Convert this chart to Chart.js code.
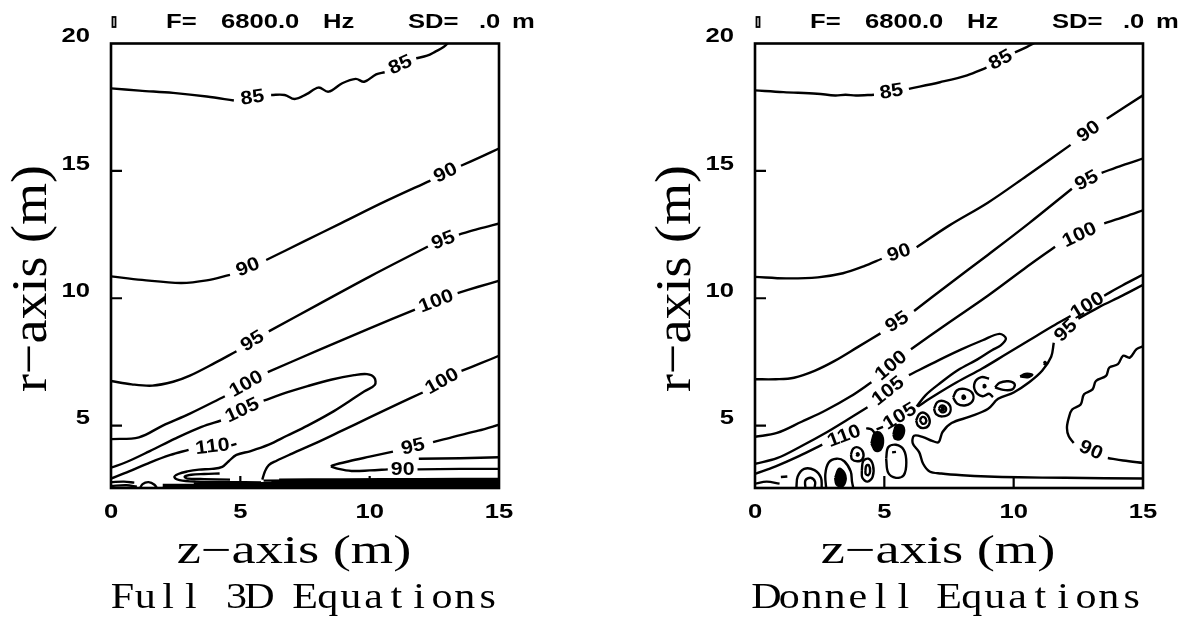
<!DOCTYPE html>
<html>
<head>
<meta charset="utf-8">
<script src="https://cdn.jsdelivr.net/npm/chart.js@4.4.1/dist/chart.umd.min.js"></script>
<style>
  html, body { margin: 0; padding: 0; background: #fff; }
  .panel { position: absolute; top: 0; width: 544px; height: 617px; }
  #panel_full { left: 0; }
  #panel_donnell { left: 644px; }
</style>
</head>
<body>
<div class="panel" id="panel_full"><canvas id="chart_full" width="544" height="617"></canvas></div>
<div class="panel" id="panel_donnell"><canvas id="chart_donnell" width="544" height="617"></canvas></div>
<script>
// axes (z = range along the shell, r = radial distance), both in metres
const Z_RANGE = [0, 15];
const R_RANGE = [2.55, 20];
const Z_TICKS = [0, 5, 10, 15];
const R_TICKS = [5, 10, 15, 20];
const Z_INNER_TICKS = [5, 10];
const R_INNER_TICKS = [5, 10, 15];

const HEAD_FREQ = ["F=", "6800.0", "Hz"];
const HEAD_DEPTH = ["SD=", ".0", "m"];
const Z_TITLE = "z\u2212axis (m)";
const R_TITLE = "r\u2212axis (m)";
const CAPTION_FULL = "Full 3D Equations";
const CAPTION_DONNELL = "Donnell Equations";

// each contour is a list of runs [z, r]; the level label sits in the gap between runs

// ---- Full 3D equations ----
const full85 = [
  [[0, 18.24], [1.1, 18.15], [2.4, 18.06], [3.7, 17.92], [4.75, 17.76]],
  [[6.19, 17.98], [6.71, 17.98], [7.1, 17.82], [7.56, 18.01], [8.02, 18.27], [8.41, 18.11], [8.94, 18.44], [9.46, 18.61], [9.79, 18.5], [10.25, 18.79], [10.58, 18.87]],
  [[11.8, 19.42], [12.22, 19.52], [12.54, 19.68], [12.87, 19.87], [13.05, 20.05]]
];
const full90 = [
  [[0, 10.86], [1.2, 10.72], [2.7, 10.6], [3.7, 10.7], [4.6, 10.92]],
  [[6.0, 11.5], [7.5, 12.25], [8.9, 12.95], [10.6, 13.8], [12.35, 14.62]],
  [[13.53, 15.2], [14.3, 15.55], [15.05, 15.9]]
];
const full95 = [
  [[0, 6.75], [0.8, 6.62], [1.6, 6.57], [2.4, 6.72], [3.05, 6.96], [4.0, 7.45], [4.85, 7.92]],
  [[6.1, 8.7], [8.0, 9.75], [10.0, 10.85], [12.25, 12.03]],
  [[13.45, 12.5], [14.2, 12.72], [15.05, 12.95]]
];
const full100 = [
  [[0, 4.47], [1.08, 4.54], [2.0, 5.0], [3.05, 5.47], [4.4, 6.15]],
  [[6.06, 7.1], [8.0, 7.95], [10.0, 8.82], [11.75, 9.55]],
  [[13.4, 10.2], [14.2, 10.45], [15.05, 10.7]]
];
const full105 = [
  [[0, 3.35], [0.6, 3.57], [1.5, 4.0], [2.5, 4.5], [3.5, 4.95], [4.25, 5.2]],
  [[5.9, 5.98], [6.8, 6.3], [7.6, 6.55], [8.5, 6.8], [9.4, 6.98], [9.9, 7.02], [10.18, 6.88], [10.2, 6.6], [9.8, 6.35], [9.2, 5.95], [8.5, 5.5], [7.6, 5.0], [6.8, 4.6], [6.1, 4.25], [5.4, 4.0], [4.85, 3.85], [4.55, 3.6], [4.3, 3.38], [3.9, 3.3], [3.4, 3.27], [2.95, 3.2], [2.6, 3.1], [2.45, 2.98], [2.65, 2.86], [3.3, 2.8], [4.5, 2.78], [5.8, 2.77]]
];
const full110 = [
  [[0, 2.92], [0.7, 3.2], [1.5, 3.55], [2.3, 3.85], [3.0, 4.05]],
  [[4.85, 4.28], [4.65, 4.22]]
];
const full100b = [
  [[5.85, 2.88], [5.95, 3.2], [6.1, 3.45], [6.4, 3.62], [7.0, 3.9], [8.0, 4.35], [8.93, 4.8], [10.0, 5.32], [11.1, 5.85], [12.05, 6.3]],
  [[13.55, 7.15], [14.3, 7.45], [15.05, 7.76]]
];
const full95b = [
  [[15.05, 5.05], [14.2, 4.8], [13.2, 4.55], [12.45, 4.35]],
  [[10.9, 3.98], [10.0, 3.78], [9.2, 3.6], [8.6, 3.45], [8.5, 3.4]]
];
const full90b = [
  [[8.5, 3.4], [8.8, 3.3], [9.3, 3.22], [10.0, 3.24], [10.7, 3.28]],
  [[11.85, 3.28], [13.5, 3.3], [15.05, 3.3]]
];
// unlabelled lines near the shell (z axis)
const fullLines = [
  [[4.2, 3.12], [3.6, 3.1], [3.1, 3.07], [2.85, 3.0], [2.95, 2.92], [3.6, 2.9], [4.6, 2.88]],
  [[11.9, 3.7], [13.5, 3.72], [15.05, 3.76]],
  [[1.1, 2.5], [1.22, 2.7], [1.45, 2.78], [1.68, 2.68], [1.8, 2.5]],
  [[0, 2.78], [0.5, 2.8], [0.9, 2.76]],
  [[0, 2.63], [0.6, 2.66], [1.0, 2.6]],
  [[6.5, 2.88], [9.0, 2.89], [12.0, 2.9], [15.05, 2.91]],
  [[5.9, 2.84], [9.0, 2.85], [12.0, 2.85], [15.05, 2.86]],
  [[6.2, 2.8], [10.0, 2.81], [15.05, 2.82]],
  [[3.2, 2.73], [6.0, 2.74], [10.0, 2.77], [15.05, 2.78]],
  [[6.6, 2.7], [10.0, 2.72], [15.05, 2.74]],
  [[2.0, 2.67], [5.5, 2.67], [10.0, 2.68], [15.05, 2.7]],
  [[5.5, 2.63], [10.0, 2.64], [15.05, 2.66]],
  [[6.4, 2.6], [10.0, 2.61], [15.05, 2.62]],
  [[2.0, 2.58], [6.0, 2.58], [15.05, 2.59]]
];

// ---- Donnell equations ----
const donnell85 = [
  [[0, 18.16], [1.1, 18.09], [2.4, 18.03], [3.1, 17.96], [3.5, 17.99], [3.9, 17.96], [4.6, 17.99]],
  [[5.95, 18.22], [7.15, 18.48], [8.2, 18.75], [8.95, 19.05]],
  [[10.05, 19.65], [10.5, 19.86], [10.85, 20.05]]
];
const donnell90 = [
  [[0, 10.84], [1.2, 10.78], [2.43, 10.82], [3.4, 10.98], [4.2, 11.25], [4.9, 11.55]],
  [[6.25, 12.0], [7.5, 12.85], [9.0, 13.75], [10.5, 14.8], [12.2, 16.02]],
  [[13.6, 17.05], [15.05, 18.0]]
];
const donnell95 = [
  [[0, 6.82], [0.8, 6.82], [1.51, 6.88], [2.3, 7.15], [3.08, 7.54], [4.0, 8.1], [4.85, 8.62]],
  [[6.15, 9.5], [7.5, 10.55], [9.0, 11.7], [10.6, 12.95], [12.25, 14.3]],
  [[13.4, 14.92], [14.2, 15.22], [15.05, 15.5]]
];
const donnell100 = [
  [[0, 4.56], [0.85, 4.71], [1.8, 5.15], [2.74, 5.6], [3.7, 6.15], [4.5, 6.7]],
  [[6.03, 8.0], [7.5, 9.05], [9.0, 10.1], [10.4, 11.15], [11.6, 12.02]],
  [[13.5, 12.94], [14.3, 13.2], [15.05, 13.47]]
];
const donnell105 = [
  [[0, 3.5], [0.85, 3.72], [1.8, 4.2], [2.74, 4.72], [3.6, 5.25], [4.35, 5.72]],
  [[5.95, 6.98], [7.11, 7.57], [8.0, 8.0], [8.8, 8.35], [9.45, 8.6], [9.7, 8.42], [9.5, 8.15], [9.16, 7.96], [8.6, 7.6], [7.85, 7.18], [7.2, 6.7], [6.6, 6.2], [6.25, 5.75]],
  [[4.95, 4.95], [4.7, 4.85]]
];
const donnell110 = [
  [[0, 3.1], [0.8, 3.4], [1.7, 3.8], [2.6, 4.25]],
  [[4.3, 4.9], [4.5, 4.85], [4.62, 4.72]]
];
const donnell100b = [
  [[6.3, 5.75], [6.9, 6.15], [7.8, 6.7], [8.8, 7.25], [9.7, 7.8], [10.6, 8.35], [11.5, 8.9], [12.2, 9.3]],
  [[13.5, 10.1], [14.2, 10.5], [15.05, 10.95]]
];
const donnell95b = [
  [[15.05, 2.92], [12.0, 2.95], [10.2, 2.97], [9.0, 3.0], [8.0, 3.05], [7.2, 3.12], [6.75, 3.2], [6.5, 3.5], [6.35, 3.95], [6.1, 4.3], [6.15, 4.6], [6.5, 4.55], [6.85, 4.4], [7.1, 4.35], [7.25, 4.75], [7.6, 5.1], [8.3, 5.35], [9.0, 5.65], [9.4, 6.05], [10.0, 6.3], [10.6, 6.7], [11.1, 7.15], [11.45, 7.7], [11.55, 8.25]],
  [[12.5, 9.2], [13.3, 9.65], [14.2, 10.1], [15.05, 10.55]]
];
const donnell90b = [
  [[15.05, 8.13], [14.75, 8.0], [14.49, 7.67], [14.23, 7.74], [14.03, 7.41], [13.7, 7.28], [13.57, 6.95], [13.18, 6.75], [13.05, 6.42], [12.72, 6.23], [12.59, 5.83], [12.26, 5.63], [12.13, 5.3], [12.06, 4.91], [12.13, 4.58], [12.32, 4.32]],
  [[13.64, 3.73], [14.23, 3.63], [15.05, 3.53]]
];
// closed rings and small pieces in the near field
const donnellLines = [
  [[0, 2.72], [0.45, 2.8], [0.95, 2.72]],
  [[1.0, 2.98], [1.25, 3.0]],
  [[1.6, 2.55], [1.65, 3.0], [1.9, 3.3], [2.3, 3.25], [2.55, 2.95], [2.58, 2.55]],
  [[1.95, 2.55], [1.95, 2.85], [2.15, 2.95], [2.32, 2.8], [2.3, 2.55]],
  [[2.75, 2.55], [2.72, 3.1], [2.85, 3.55], [3.15, 3.7], [3.45, 3.6], [3.7, 3.2], [3.75, 2.8], [3.8, 2.55]],
  [[3.71, 3.87], [3.8, 4.1], [4.0, 4.14], [4.18, 3.95], [4.15, 3.68], [3.95, 3.6], [3.75, 3.68], [3.71, 3.87]],
  [[4.13, 3.25], [4.18, 3.6], [4.38, 3.7], [4.56, 3.45], [4.55, 3.0], [4.35, 2.8], [4.15, 2.95], [4.13, 3.25]],
  [[4.27, 3.25], [4.3, 3.42], [4.4, 3.45], [4.45, 3.2], [4.38, 3.05], [4.28, 3.1], [4.27, 3.25]],
  [[5.07, 3.7], [5.15, 4.15], [5.45, 4.25], [5.75, 4.05], [5.85, 3.55], [5.75, 3.05], [5.45, 2.95], [5.15, 3.15], [5.07, 3.7]],
  [[5.3, 3.95], [5.45, 3.97]],
  [[6.23, 5.2], [6.35, 5.45], [6.55, 5.5], [6.73, 5.3], [6.72, 5.02], [6.5, 4.9], [6.3, 5.0], [6.23, 5.2]],
  [[6.37, 5.22], [6.47, 5.34], [6.6, 5.27], [6.6, 5.12], [6.48, 5.07], [6.37, 5.22]],
  [[6.92, 5.66], [7.05, 5.92], [7.3, 5.96], [7.54, 5.78], [7.52, 5.48], [7.25, 5.36], [7.0, 5.45], [6.92, 5.66]],
  [[7.1, 5.66], [7.2, 5.78], [7.35, 5.74], [7.37, 5.58], [7.23, 5.52], [7.1, 5.66]],
  [[7.66, 6.1], [7.8, 6.38], [8.1, 6.44], [8.4, 6.28], [8.42, 5.98], [8.15, 5.8], [7.82, 5.86], [7.66, 6.1]],
  [[9.05, 6.85], [8.75, 6.9], [8.5, 6.7], [8.52, 6.35], [8.8, 6.15], [9.05, 6.25], [9.2, 6.12]],
  [[9.28, 6.5], [9.45, 6.68], [9.8, 6.74], [10.04, 6.62], [9.95, 6.42], [9.6, 6.4], [9.28, 6.5]]
];
const donnellBlobs = [
  [[4.5, 4.3], [4.62, 4.7], [4.82, 4.72], [4.95, 4.42], [4.85, 4.05], [4.65, 4.02], [4.5, 4.3]],
  [[5.35, 4.65], [5.45, 4.98], [5.68, 5.0], [5.76, 4.75], [5.62, 4.48], [5.42, 4.48], [5.35, 4.65]],
  [[3.1, 2.95], [3.25, 3.3], [3.45, 3.15], [3.5, 2.85], [3.35, 2.6], [3.15, 2.7], [3.1, 2.95]],
  [[10.25, 6.93], [10.45, 7.03], [10.72, 7.0], [10.55, 6.9], [10.25, 6.93]],
  [[7.2, 5.66], [7.26, 5.72], [7.3, 5.64], [7.24, 5.6], [7.2, 5.66]],
  [[8.0, 6.12], [8.07, 6.18], [8.12, 6.1], [8.05, 6.05], [8.0, 6.12]],
  [[3.92, 3.87], [3.97, 3.92], [4.01, 3.86], [3.96, 3.82], [3.92, 3.87]],
  [[8.82, 6.55], [8.87, 6.6], [8.91, 6.54], [8.86, 6.5], [8.82, 6.55]],
  [[11.17, 7.45], [11.21, 7.5], [11.25, 7.44], [11.2, 7.41], [11.17, 7.45]]
];

const fullContours = [
  { level: 85, runs: full85 }, { level: 90, runs: full90 }, { level: 95, runs: full95 },
  { level: 100, runs: full100 }, { level: 105, runs: full105 }, { level: 110, runs: full110 },
  { level: 100, runs: full100b }, { level: 95, runs: full95b }, { level: 90, runs: full90b }
];
const donnellContours = [
  { level: 85, runs: donnell85 }, { level: 90, runs: donnell90 }, { level: 95, runs: donnell95 },
  { level: 100, runs: donnell100 }, { level: 105, runs: donnell105 }, { level: 110, runs: donnell110 },
  { level: 100, runs: donnell100b }, { level: 95, runs: donnell95b }, { level: 90, runs: donnell90b }
];

function lineSet(run, filled) {
  return {
    data: run.map(p => ({ x: p[0], y: p[1] })),
    showLine: true,
    pointRadius: 0,
    borderColor: "#000",
    backgroundColor: "#000",
    borderWidth: 2.4,
    tension: 0.35,
    fill: filled ? "shape" : false
  };
}

function buildDatasets(contours, lines, blobs) {
  let sets = [];
  contours.forEach(c => c.runs.forEach(run => sets.push(lineSet(run, false))));
  lines.forEach(run => sets.push(lineSet(run, false)));
  blobs.forEach(run => sets.push(lineSet(run, true)));
  return sets;
}

// text squeezed/stretched horizontally like the plotter lettering
function wideText(ctx, text, x, y, font, sx, align, baseline) {
  ctx.save();
  ctx.translate(x, y);
  ctx.scale(sx, 1);
  ctx.font = font;
  ctx.textAlign = align;
  ctx.textBaseline = baseline || "alphabetic";
  ctx.fillText(text, 0, 0);
  ctx.restore();
}

const plotDecor = {
  id: "plotDecor",
  afterDraw(chart, args, opts) {
    const ctx = chart.ctx;
    const area = chart.chartArea;
    const xs = chart.scales.x;
    const ys = chart.scales.y;
    ctx.save();
    ctx.fillStyle = "#000";
    ctx.strokeStyle = "#000";

    // contour level labels, centred in the gaps
    opts.contours.forEach(c => {
      for (let i = 0; i < c.runs.length - 1; i++) {
        const a = c.runs[i][c.runs[i].length - 1];
        const b = c.runs[i + 1][0];
        const ax = xs.getPixelForValue(a[0]), ay = ys.getPixelForValue(a[1]);
        const bx = xs.getPixelForValue(b[0]), by = ys.getPixelForValue(b[1]);
        let ang = Math.atan2(by - ay, bx - ax);
        if (ang > Math.PI / 2) ang -= Math.PI;
        if (ang < -Math.PI / 2) ang += Math.PI;
        ctx.save();
        ctx.translate((ax + bx) / 2, (ay + by) / 2);
        ctx.rotate(ang);
        ctx.scale(1.12, 1);
        ctx.font = "bold 19px 'Liberation Sans'";
        ctx.textAlign = "center";
        ctx.textBaseline = "middle";
        ctx.fillText(String(c.level), 0, 0);
        ctx.restore();
      }
    });

    // frame and inward ticks
    ctx.lineWidth = 2.6;
    ctx.strokeRect(area.left, area.top, area.right - area.left, area.bottom - area.top);
    ctx.lineWidth = 2.2;
    ctx.beginPath();
    R_INNER_TICKS.forEach(v => {
      const y = ys.getPixelForValue(v);
      ctx.moveTo(area.left, y);
      ctx.lineTo(area.left + 11, y);
    });
    Z_INNER_TICKS.forEach(v => {
      const x = xs.getPixelForValue(v);
      ctx.moveTo(x, area.bottom);
      ctx.lineTo(x, area.bottom - 12);
    });
    ctx.stroke();

    // tick labels
    const tickFont = "bold 21px 'Liberation Sans'";
    R_TICKS.forEach(v => {
      wideText(ctx, String(v), area.left - 21, ys.getPixelForValue(v) - 7, tickFont, 1.22, "right", "middle");
    });
    Z_TICKS.forEach(v => {
      wideText(ctx, String(v), xs.getPixelForValue(v), 512.5, tickFont, 1.22, "center", "middle");
    });

    // header line
    const headFont = "bold 21px 'Liberation Sans'";
    const headX = [55, 110, 212, 297, 368, 401];
    HEAD_FREQ.concat(HEAD_DEPTH).forEach((s, i) => {
      wideText(ctx, s, area.left + headX[i], 28, headFont, 1.22, "left");
    });
    ctx.lineWidth = 1.8;
    ctx.strokeRect(area.left + 1.5, 17, 3, 10);

    // axis titles
    const titleFont = "40px 'Liberation Serif'";
    wideText(ctx, Z_TITLE, area.left + 183, 563, titleFont, 1.36, "center");
    ctx.save();
    ctx.translate(area.left - 65, 278.5);
    ctx.rotate(-Math.PI / 2);
    ctx.scale(1.35, 1.28);
    ctx.font = titleFont;
    ctx.textAlign = "center";
    ctx.textBaseline = "alphabetic";
    ctx.fillText(R_TITLE, 0, 0);
    ctx.restore();

    // caption in fixed-width cells
    const cap = opts.caption;
    const cell = (area.right - area.left) / cap.length;
    for (let i = 0; i < cap.length; i++) {
      wideText(ctx, cap[i], area.left + (i + 0.5) * cell, 608, "35px 'Liberation Serif'", 1.2, "center");
    }
    ctx.restore();
  }
};

function makeChart(canvasId, contours, lines, blobs, caption) {
  return new Chart(document.getElementById(canvasId), {
    type: "scatter",
    data: { datasets: buildDatasets(contours, lines, blobs) },
    options: {
      responsive: false,
      animation: false,
      events: [],
      layout: { padding: { left: 111, right: 45, top: 43.5, bottom: 129 } },
      scales: {
        x: { type: "linear", min: Z_RANGE[0], max: Z_RANGE[1], display: false },
        y: { type: "linear", min: R_RANGE[0], max: R_RANGE[1], display: false }
      },
      plugins: {
        legend: { display: false },
        tooltip: { enabled: false },
        plotDecor: { contours: contours, caption: caption }
      }
    },
    plugins: [plotDecor]
  });
}

makeChart("chart_full", fullContours, fullLines, [], CAPTION_FULL);
makeChart("chart_donnell", donnellContours, donnellLines, donnellBlobs, CAPTION_DONNELL);
</script>
</body>
</html>
